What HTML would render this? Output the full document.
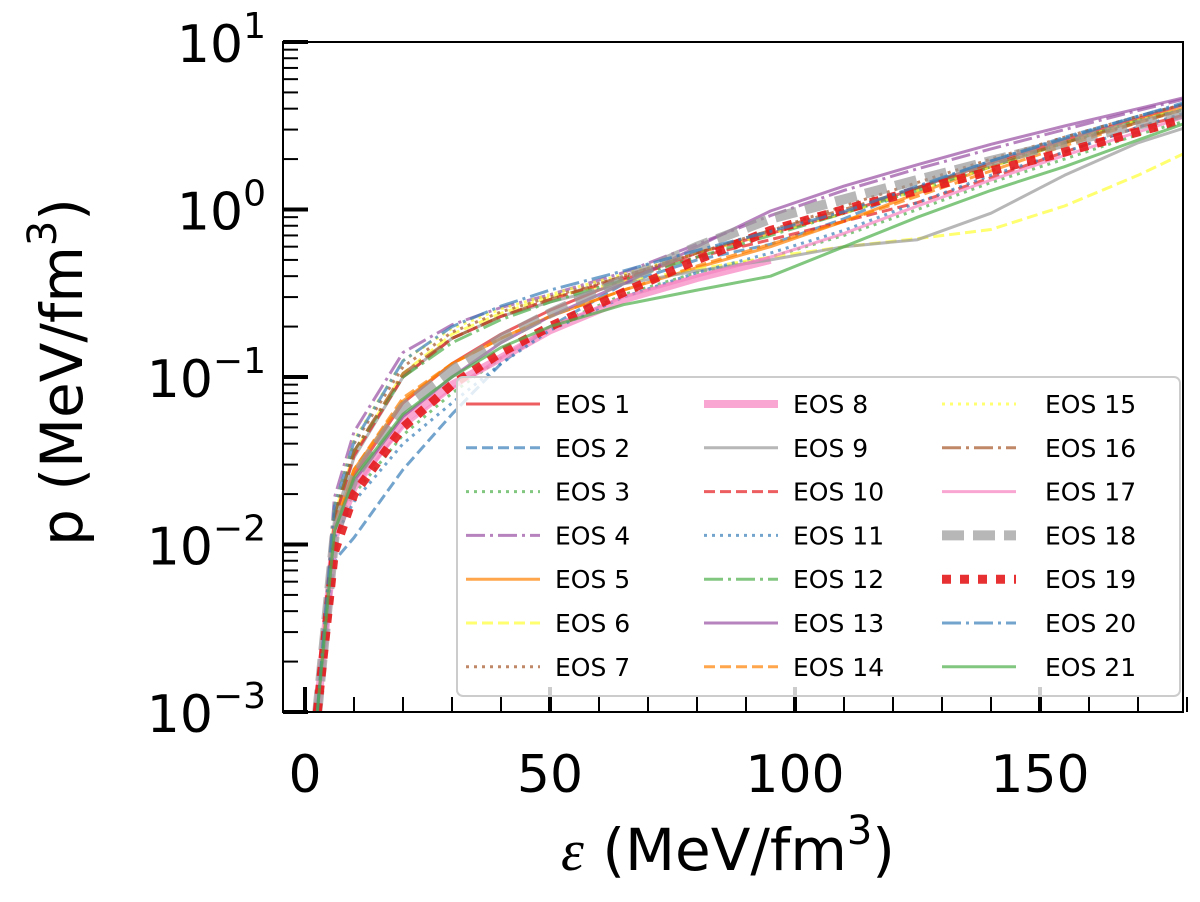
<!DOCTYPE html>
<html><head><meta charset="utf-8"><style>
html,body{margin:0;padding:0;background:#fff}
svg{display:block;font-family:"DejaVu Sans","Liberation Sans",sans-serif}
</style></head><body>
<svg id="chart" width="1200" height="902" viewBox="0 0 1200 902" xmlns="http://www.w3.org/2000/svg">
<defs><clipPath id="clip"><rect x="283" y="42" width="900" height="670"/></clipPath></defs>
<g id="series" clip-path="url(#clip)"></g>
<g id="axes"></g>
<g id="legend"></g>
</svg>
<script>
const epsGrid = [2.5, 6, 10, 20, 30, 40, 50, 65, 80, 95, 110, 125, 140, 155, 170, 180];
const eos1  = [0.001,0.012,0.026,0.07,0.12,0.18,0.25,0.38,0.55,0.72,0.95,1.35,1.9,2.6,3.5,4.3];
const eos2  = [0.001,0.008,0.011,0.028,0.06,0.12,0.2,0.36,0.5,0.62,0.88,1.35,1.95,2.7,3.6,4.3];
const eos3  = [0.001,0.013,0.02,0.045,0.08,0.13,0.2,0.31,0.42,0.52,0.7,1.0,1.45,2.0,2.8,3.4];
const eos4  = [0.001,0.019,0.047,0.14,0.205,0.26,0.31,0.42,0.62,0.92,1.3,1.75,2.3,3.0,3.9,4.6];
const eos5  = [0.001,0.012,0.028,0.072,0.12,0.17,0.23,0.33,0.45,0.6,0.85,1.25,1.8,2.5,3.4,4.1];
const eos6  = [0.001,0.015,0.035,0.105,0.18,0.24,0.3,0.37,0.44,0.52,0.6,0.67,0.76,1.05,1.6,2.2];
const eos7  = [0.001,0.016,0.04,0.115,0.185,0.245,0.3,0.4,0.55,0.75,1.05,1.45,2.0,2.7,3.6,4.3];
const eos8  = [0.001,0.011,0.022,0.055,0.09,0.13,0.19,0.29,0.39,0.5,null,null,null,null,null,null];
const eos9  = [0.001,0.014,0.033,0.1,0.17,0.23,0.28,0.36,0.43,0.5,0.6,0.66,0.95,1.6,2.5,3.1];
const eos10 = [0.001,0.014,0.034,0.1,0.17,0.23,0.29,0.39,0.52,0.66,0.85,1.1,1.55,2.2,3.1,3.7];
const eos11 = [0.001,0.011,0.018,0.04,0.07,0.12,0.19,0.3,0.42,0.55,0.75,1.1,1.6,2.2,3.1,3.8];
const eos12 = [0.001,0.015,0.036,0.1,0.16,0.22,0.28,0.38,0.52,0.7,0.95,1.3,1.8,2.5,3.4,4.0];
const eos13 = [0.001,0.012,0.024,0.058,0.1,0.16,0.23,0.36,0.6,0.98,1.38,1.85,2.45,3.15,4.0,4.7];
const eos14 = [0.001,0.013,0.028,0.075,0.12,0.17,0.23,0.33,0.46,0.62,0.85,1.2,1.7,2.4,3.3,4.0];
const eos15 = [0.001,0.017,0.042,0.125,0.195,0.255,0.31,0.41,0.55,0.72,0.95,1.3,1.8,2.5,3.4,4.0];
const eos16 = [0.001,0.015,0.036,0.105,0.17,0.23,0.29,0.4,0.55,0.75,1.0,1.35,1.85,2.5,3.3,4.0];
const eos17 = [0.001,0.013,0.022,0.05,0.085,0.13,0.2,0.3,0.4,0.52,0.72,1.05,1.5,2.1,2.9,3.6];
const eos18 = [0.001,0.011,0.025,0.066,0.11,0.17,0.24,0.38,0.6,0.88,1.15,1.5,1.95,2.5,3.2,3.8];
const eos19 = [0.001,0.009,0.02,0.05,0.09,0.14,0.2,0.32,0.5,0.75,1.0,1.3,1.7,2.2,2.9,3.5];
const eos20 = [0.001,0.017,0.041,0.125,0.2,0.265,0.33,0.43,0.57,0.74,0.97,1.38,1.95,2.65,3.6,4.4];
const eos21 = [0.001,0.012,0.025,0.06,0.1,0.15,0.2,0.27,0.33,0.4,0.6,0.9,1.3,1.8,2.6,3.3];
const seriesValues = [eos1,eos2,eos3,eos4,eos5,eos6,eos7,eos8,eos9,eos10,eos11,eos12,eos13,eos14,eos15,eos16,eos17,eos18,eos19,eos20,eos21];
const seriesNames = ["EOS 1","EOS 2","EOS 3","EOS 4","EOS 5","EOS 6","EOS 7","EOS 8","EOS 9","EOS 10","EOS 11","EOS 12","EOS 13","EOS 14","EOS 15","EOS 16","EOS 17","EOS 18","EOS 19","EOS 20","EOS 21"];
const xTicks = [0, 50, 100, 150];
const yTickExps = [-3, -2, -1, 0, 1];

const colors = ["#e41a1c","#377eb8","#4daf4a","#984ea3","#ff7f00","#ffff33","#a65628","#f781bf","#999999"];
const styles = ["solid","dashed","dotted","dashdot","solid","dashed","dotted","solid","solid","dashed","dotted","dashdot","solid","dashed","dotted","dashdot","solid","dashed","dotted","dashdot","solid"];
const dashMap = {solid:"",dashed:"11,5",dotted:"3,5",dashdot:"19,5,3,5"};
const NS = "http://www.w3.org/2000/svg";
const X0=305, XS=4.9, YT=42, YB=712;
function xs(v){return X0+v*XS;}
function ys(p){return YB-(Math.log10(p)+3)*(YB-YT)/4;}
function mk(tag,attrs,parent){const e=document.createElementNS(NS,tag);for(const k in attrs)e.setAttribute(k,attrs[k]);parent.appendChild(e);return e;}
function styleFor(i){
  let w=3, dash=dashMap[styles[i]], op=0.7, col=colors[i%9];
  if(i===7){w=8;}
  if(i===17){w=10;dash="22,9";}
  if(i===18){w=9;dash="9,9";op=0.9;}
  return {w,dash,op,col};
}
const sg=document.getElementById('series');
seriesValues.forEach((vals,i)=>{
  let d="";let started=false;
  vals.forEach((p,j)=>{if(p===null)return;d+=(started?"L":"M")+xs(epsGrid[j]).toFixed(1)+","+ys(p).toFixed(1);started=true;});
  const s=styleFor(i);
  const el=mk('path',{d:d,fill:"none",stroke:s.col,"stroke-width":s.w,"stroke-opacity":s.op,"stroke-dasharray":s.dash,"stroke-linejoin":"round"},sg);
  
  
});
const ag=document.getElementById('axes');
const frame=mk('rect',{x:283,y:42,width:900,height:670,fill:"none",stroke:"#000","stroke-width":2},ag);


yTickExps.forEach(e=>{
  const y=ys(Math.pow(10,e));
  const t=mk('line',{x1:283,x2:308,y1:y,y2:y,stroke:"#000","stroke-width":4},ag);
  
  
  const tx=mk('text',{x:266,y:y+20,"text-anchor":"end","font-size":52},ag);
  
  
  tx.innerHTML='10<tspan dy="-24" font-size="36">'+(e<0?'\u2212'+(-e):e)+'</tspan>';
  if(e<1){for(let m=2;m<10;m++){const ym=ys(m*Math.pow(10,e));
    const mt=mk('line',{x1:283,x2:298,y1:ym,y2:ym,stroke:"#000","stroke-width":2},ag);
    
    }}
});
for(let v=0;v<=180;v+=10){
  const x=xs(v);const major=xTicks.includes(v);
  const t=mk('line',{x1:x,x2:x,y1:YB,y2:YB-(major?25:15),stroke:"#000","stroke-width":major?4:2},ag);
  
  
}
xTicks.forEach(v=>{
  const tx=mk('text',{x:xs(v),y:792,"text-anchor":"middle","font-size":52},ag);
  
  
  tx.textContent=v;
});
const xl=mk('text',{x:728,y:870,"text-anchor":"middle","font-size":58},ag);


xl.innerHTML='<tspan font-style="italic" font-family="Liberation Serif, serif">\u03b5</tspan> (MeV/fm<tspan dy="-26" font-size="40">3</tspan><tspan dy="26">)</tspan>';
const yl=mk('text',{x:0,y:0,"text-anchor":"middle","font-size":58,transform:"translate(82,372) rotate(-90)"},ag);


yl.innerHTML='p (MeV/fm<tspan dy="-26" font-size="40">3</tspan><tspan dy="26">)</tspan>';
const lg=document.getElementById('legend');
const box=mk('rect',{x:457,y:377,width:723,height:319,rx:6,fill:"#fff","fill-opacity":0.8,stroke:"#ccc","stroke-width":2},lg);


const colX=[466,704,942], rowY0=404, rowH=43.8;
seriesNames.forEach((n,i)=>{
  const c=Math.floor(i/7), r=i%7;const x=colX[c], y=rowY0+r*rowH;const s=styleFor(i);
  const g=mk('g',{},lg);
  
  
  mk('line',{x1:x,x2:x+74,y1:y,y2:y,stroke:s.col,"stroke-width":s.w,"stroke-opacity":s.op,"stroke-dasharray":s.dash},g);
  const t=mk('text',{x:x+(c===2?103:89),y:y+9,"font-size":25},g);
  t.textContent=n;
});
</script>
</body></html>
